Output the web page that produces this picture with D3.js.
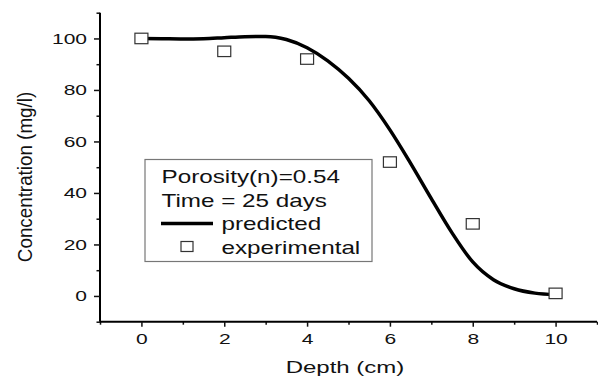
<!DOCTYPE html>
<html>
<head>
<meta charset="utf-8">
<script src="https://cdn.jsdelivr.net/npm/d3@7"></script>
<style>
  body { margin: 0; background: #fff; }
  text { font-family: "Liberation Sans", Arial, sans-serif; fill: #111; }
</style>
</head>
<body>
<div id="chart"></div>
<script>
// Experimental measurements
const expDepth = [0, 2, 4, 6, 8, 10];
const expConc = [100, 95, 92, 52, 28, 1];

// Predicted curve
const predDepth = [0, 0.5, 1, 1.5, 2, 2.5, 3, 3.5, 4, 4.5, 5, 5.5, 6, 6.5, 7, 7.5, 8, 8.5, 9, 9.5, 10];
const predConc = [100, 99.9, 99.8, 99.9, 100.3, 100.7, 100.8, 99.6, 96.4, 91.3, 84.5, 75.8, 64.5, 51.5, 37.8, 24.5, 13.2, 6.3, 2.8, 1.1, 0.5];

// Axis ticks
const xMajor = [0, 2, 4, 6, 8, 10];
const xMinor = [-1, 1, 3, 5, 7, 9, 11];
const yMajor = [0, 20, 40, 60, 80, 100];
const yMinor = [-10, 10, 30, 50, 70, 90, 110];

const legendLines = ["Porosity(n)=0.54", "Time = 25 days"];

const width = 598;
const height = 381;

const svg = d3.select("#chart")
  .append("svg")
  .attr("width", width)
  .attr("height", height);

// stretch text horizontally, the original picture is wider than tall
const stretch = (sel, k) => {
  sel.each(function () {
    const w = this.getComputedTextLength();
    d3.select(this)
      .attr("textLength", w * k)
      .attr("lengthAdjust", "spacingAndGlyphs");
  });
};

const xScale = d3.scaleLinear().domain([-1, 11]).range([100, 597]);
const yScale = d3.scaleLinear().domain([-10, 110]).range([321.7, 12.7]);

// X axis
const xAxisG = svg.append("g").attr("transform", `translate(0, ${yScale(-10)})`);
xAxisG.append("g")
  .call(d3.axisBottom(xScale).tickValues(xMinor).tickSize(3).tickFormat(""))
  .call(g => g.select(".domain").remove());
const xMajorG = xAxisG.append("g")
  .call(d3.axisBottom(xScale).tickValues(xMajor).tickSize(5).tickPadding(7).tickFormat(d3.format("d")));
xMajorG.select(".domain").attr("stroke-width", 2).attr("d", `M${xScale(-1)},0H${xScale(11)}`);
xAxisG.selectAll(".tick line").attr("stroke", "#111").attr("stroke-width", 1.5);
xMajorG.selectAll("text")
  .style("font-size", "15px")
  .attr("fill", "#111")
  .call(stretch, 1.4);

// Y axis
const yAxisG = svg.append("g").attr("transform", `translate(${xScale(-1)}, 0)`);
yAxisG.append("g")
  .call(d3.axisLeft(yScale).tickValues(yMinor).tickSize(3.5).tickFormat(""))
  .call(g => g.select(".domain").remove());
const yMajorG = yAxisG.append("g")
  .call(d3.axisLeft(yScale).tickValues(yMajor).tickSize(6).tickPadding(7).tickFormat(d3.format("d")));
yMajorG.select(".domain").attr("stroke-width", 2).attr("d", `M0,${yScale(-10)}V${yScale(110)}`);
yAxisG.selectAll(".tick line").attr("stroke", "#111").attr("stroke-width", 1.5);
yMajorG.selectAll("text")
  .style("font-size", "15px")
  .attr("fill", "#111")
  .call(stretch, 1.4);

// Axis labels
svg.append("text")
  .text("Depth (cm)")
  .attr("x", 345)
  .attr("y", 373)
  .attr("text-anchor", "middle")
  .style("font-size", "16px")
  .call(stretch, 1.5);

svg.append("text")
  .text("Concentration (mg/l)")
  .attr("transform", "translate(32, 177) rotate(-90)")
  .attr("text-anchor", "middle")
  .style("font-size", "20px")
  .call(stretch, 0.94);

// Predicted line
const predicted = predDepth.map((d, i) => ({ depth: d, conc: predConc[i] }));
const line = d3.line()
  .x(d => xScale(d.depth))
  .y(d => yScale(d.conc))
  .curve(d3.curveMonotoneX);

svg.append("path")
  .datum(predicted)
  .attr("fill", "none")
  .attr("stroke", "#000")
  .attr("stroke-width", 3.5)
  .attr("d", line);

// Experimental squares
const experimental = expDepth.map((d, i) => ({ depth: d, conc: expConc[i] }));
svg.selectAll(".exp")
  .data(experimental)
  .join("rect")
  .attr("class", "exp")
  .attr("x", d => xScale(d.depth) - 6.5)
  .attr("y", d => yScale(d.conc) - 5.25)
  .attr("width", 13)
  .attr("height", 10.5)
  .attr("fill", "#fff")
  .attr("stroke", "#333")
  .attr("stroke-width", 1.2);

// Legend
const legend = svg.append("g");
legend.append("rect")
  .attr("x", 145)
  .attr("y", 159.5)
  .attr("width", 227)
  .attr("height", 102)
  .attr("fill", "#fff")
  .attr("stroke", "#777")
  .attr("stroke-width", 1.2);

legend.selectAll(".info")
  .data(legendLines)
  .join("text")
  .attr("class", "info")
  .attr("x", 161.5)
  .attr("y", (d, i) => 183.3 + i * 23.5)
  .text(d => d)
  .style("font-size", "18.5px")
  .call(stretch, 1.31);

legend.append("line")
  .attr("x1", 161)
  .attr("x2", 213)
  .attr("y1", 223.5)
  .attr("y2", 223.5)
  .attr("stroke", "#000")
  .attr("stroke-width", 3.5);

legend.append("rect")
  .attr("x", 181)
  .attr("y", 241.5)
  .attr("width", 12)
  .attr("height", 10)
  .attr("fill", "#fff")
  .attr("stroke", "#333")
  .attr("stroke-width", 1.2);

legend.selectAll(".key")
  .data(["predicted", "experimental"])
  .join("text")
  .attr("class", "key")
  .attr("x", 221.5)
  .attr("y", (d, i) => 230.3 + i * 23.5)
  .text(d => d)
  .style("font-size", "18.5px")
  .call(stretch, 1.31);
</script>
</body>
</html>
